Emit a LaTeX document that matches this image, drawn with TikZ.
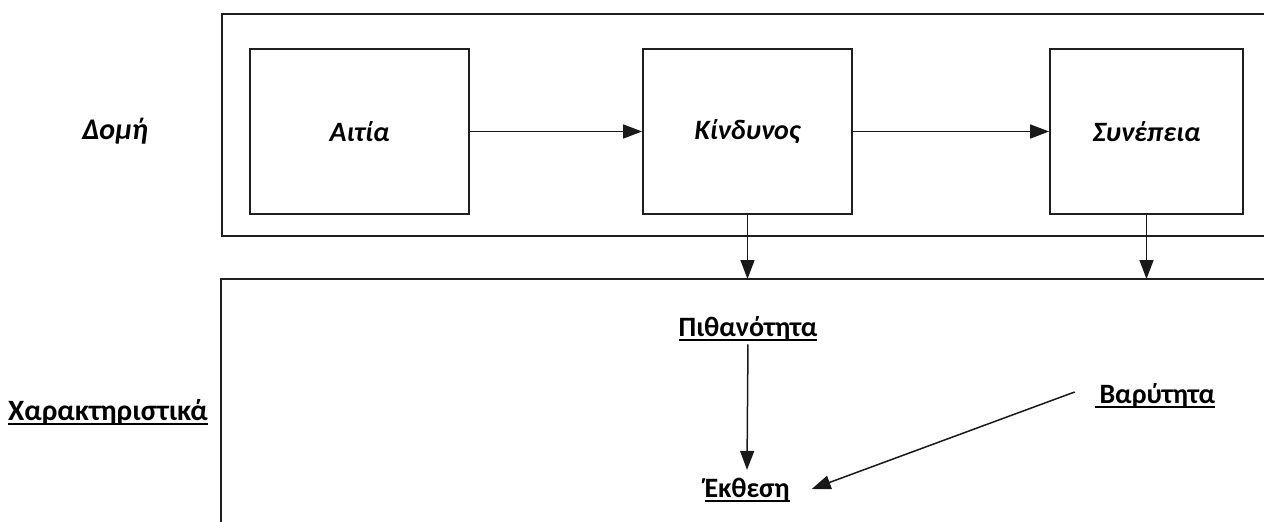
\documentclass[tikz,border=0pt]{standalone}
\usepackage{fontspec}
\setmainfont{Carlito}
\usetikzlibrary{arrows.meta}
\newcommand{\ulx}[1]{\setbox0\hbox{#1}\rlap{\usebox0}\rule[-4.5pt]{\wd0}{1.8pt}}
\tikzset{
  frame/.style={draw=black!88, line width=1.8pt},
  box/.style={draw=black!88, line width=1.8pt, minimum height=165pt, inner sep=0pt, font=\fontsize{28}{32}\selectfont\bfseries\itshape},
  lbl/.style={inner sep=0pt, font=\fontsize{28}{32}\selectfont\bfseries},
  arr/.style={draw=black!90, line width=1.5pt, -{Triangle[length=19pt,width=14pt]}},
}
\begin{document}
\begin{tikzpicture}[x=1pt,y=-1pt]
\useasboundingbox (0,0) rectangle (1264,522);
% containers
\draw[frame] (1268,14) -- (222,14) -- (222,236) -- (1268,236);
\draw[frame] (1268,279) -- (221,279) -- (221,526);
\coordinate (bt) at (0,279);
% labels
\node[lbl, font=\fontsize{30}{34}\selectfont\bfseries\itshape] (domi) at (115,131) {Δομή};
\node[lbl, font=\fontsize{29.5}{34}\selectfont\bfseries] (char) at (108,412) {\ulx{Χαρακτηριστικά}};
% boxes
\node[box, minimum width=219pt] (aitia) at (359.5,131.5) {Αιτία};
\node[box, minimum width=209pt] (kind) at (747.5,131.5) {Κίνδυνος};
\node[box, minimum width=193pt] (syn) at (1146.5,131.5) {Συνέπεια};
% characteristics
\node[lbl] (pith) at (748,329) {\ulx{Πιθανότητα}};
\node[lbl] (ekth) at (747,490) {\ulx{Έκθεση}};
\node[lbl] (bar) at (1155,396) {\ulx{\,Βαρύτητα}};
% connectors
\draw[arr] (aitia.east) -- (kind.west);
\draw[arr] (kind.east) -- (syn.west);
\draw[arr] (kind.south) -- (kind.south |- bt);
\draw[arr] (syn.south) -- (syn.south |- bt);
\draw[arr, shorten <=3pt] (pith.south) -- ([yshift=8pt]ekth.north);
\draw[arr] ([xshift=-20pt,yshift=4pt]bar.west) -- ([xshift=22pt,yshift=1pt]ekth.east);
\end{tikzpicture}
\end{document}
